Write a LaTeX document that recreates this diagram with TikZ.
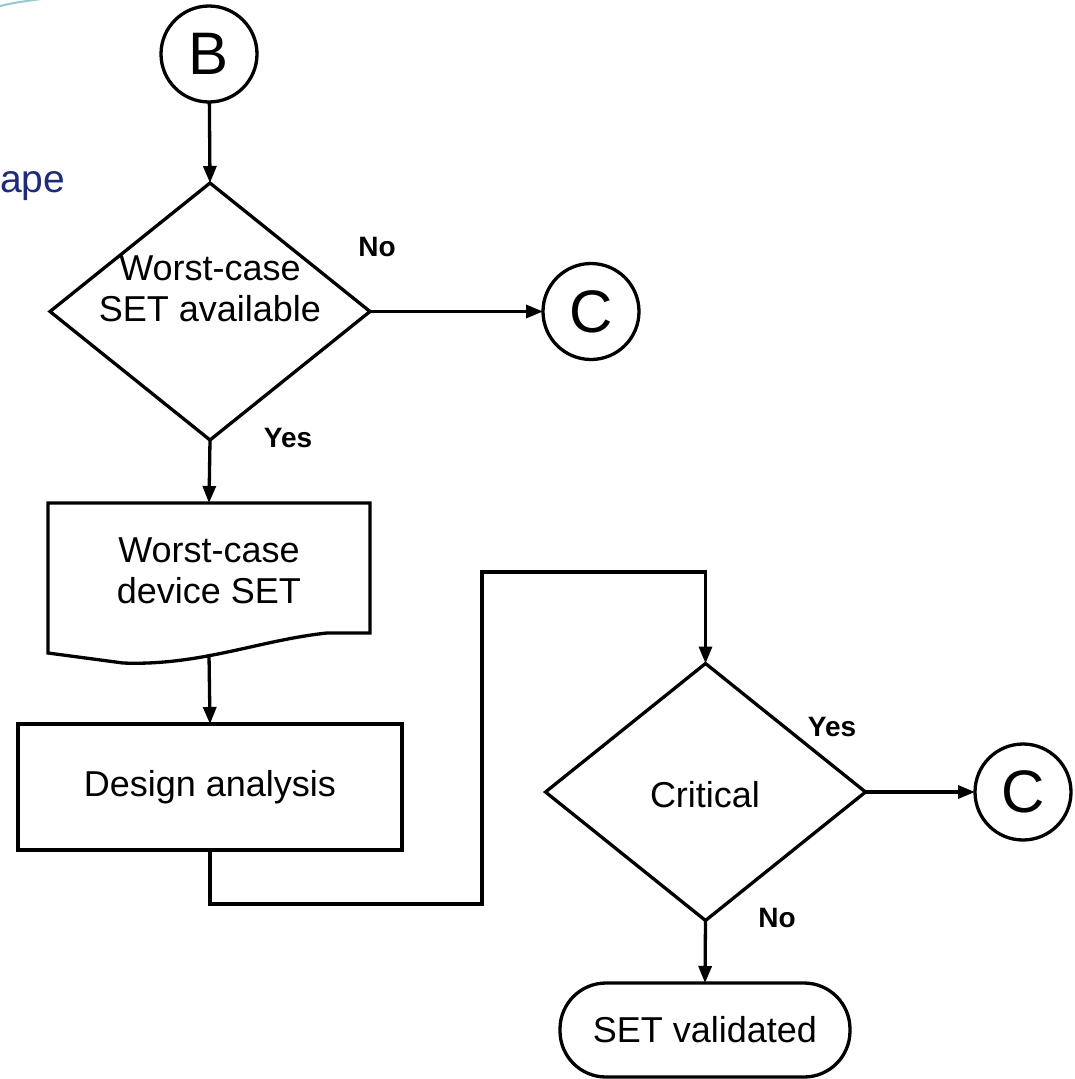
\documentclass[tikz,border=0pt]{standalone}
\usepackage{fontspec}
\setmainfont{Liberation Sans}
\usetikzlibrary{arrows.meta,shapes.geometric}
\definecolor{navytext}{RGB}{30,42,122}
\definecolor{swoosh}{RGB}{40,150,160}
\begin{document}
\begin{tikzpicture}[x=1pt,y=-1pt,line width=3.3pt,
  every node/.style={inner sep=0pt,outer sep=0pt},
  body/.style={font=\fontsize{36}{41}\selectfont,align=center},
  connector/.style={circle,draw,minimum size=96pt,font=\fontsize{60}{60}\selectfont},
  decision/.style={diamond,draw,minimum width=320pt,minimum height=257pt},
  process/.style={rectangle,draw,minimum width=384pt,minimum height=126pt},
  terminal/.style={rectangle,draw,rounded corners=46pt,minimum width=290pt,minimum height=94pt},
  answer/.style={font=\fontsize{28}{28}\selectfont\bfseries},
  arr/.style={-{Triangle[length=17pt,width=13pt]}}
]
\useasboundingbox (0,0) rectangle (1075,1079);

% faint header decoration and title fragment
\draw[swoosh,opacity=0.5,line width=2pt] (0,6) .. controls (12,3) and (25,1) .. (42,-1);
\node[anchor=base west,text=navytext,font=\fontsize{39}{39}\selectfont] (ape) at (0,192) {ape};

% shapes
\node[connector] (B) at (209,54) {B};
\node[decision] (d1) at (210,311.5) {};
\node[body] (d1txt) at (210,289) {Worst-case\\SET available};
\node[connector] (C1) at (591,311.5) {C};

\node[minimum width=322pt,minimum height=130pt] (doc) at (209,568) {};
\draw (48,503) -- (370,503) -- (370,633) -- (327,633)
  .. controls (260,640) and (200,666) .. (123,663) -- (48,653) -- cycle;
\node[body] (doctxt) at (209,571) {Worst-case\\device SET};
\coordinate (docb) at (209,654);

\node[process,body] (da) at (210,787) {Design analysis};

\node[decision] (d2) at (705.5,792) {};
\node[body] (crit) at (705,795) {Critical};
\node[connector] (C2) at (1023,792) {C};

\node[terminal,body] (term) at (705,1030) {SET validated};

% connectors
\coordinate (j1) at (482,904);
\coordinate (j2) at (482,572);
\draw[arr] (B) -- (d1.north);
\draw[arr] (d1.east) -- (C1);
\draw[arr] (d1.south) -- (doc.north);
\draw[arr] (docb) -- (da.north);
\draw[arr] (da.south) |- (j1) -- (j2) -| (d2.north);
\draw[arr] (d2.east) -- (C2);
\draw[arr] (d2.south) -- (term.north);

% branch labels
\node[answer] (no1) at (377,247) {No};
\node[answer] (yes1) at (288,438) {Yes};
\node[answer] (yes2) at (832,727) {Yes};
\node[answer] (no2) at (777,918) {No};
\end{tikzpicture}
\end{document}
